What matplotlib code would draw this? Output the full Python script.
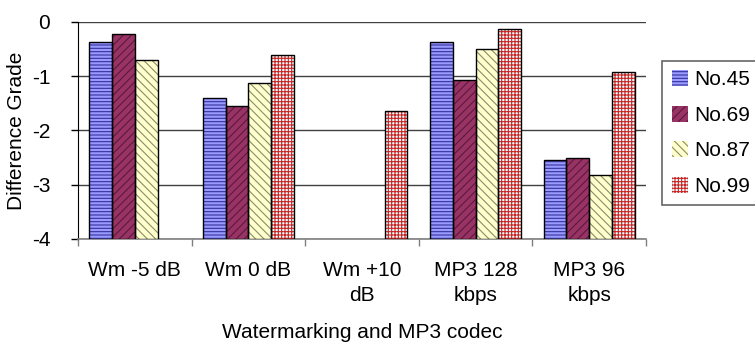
import matplotlib
matplotlib.use("Agg")
import matplotlib.pyplot as plt
import numpy as np
from matplotlib.patches import Patch

plt.rcParams['font.family'] = ['Liberation Sans', 'DejaVu Sans']
plt.rcParams['hatch.linewidth'] = 0.8

categories = ["Wm -5 dB", "Wm 0 dB", "Wm +10\ndB", "MP3 128\nkbps", "MP3 96\nkbps"]
series_names = ["No.45", "No.69", "No.87", "No.99"]
no45 = [-0.37, -1.41, np.nan, -0.36, -2.55]
no69 = [-0.23, -1.54, np.nan, -1.07, -2.51]
no87 = [-0.70, -1.13, np.nan, -0.49, -2.82]
no99 = [np.nan, -0.60, -1.64, -0.12, -0.92]
yticks = [0, -1, -2, -3, -4]
baseline = -4

series = [no45, no69, no87, no99]
fills = ["#9999FF", "#993366", "#FFFFCC", "#E8FFFF"]
hcols = ["#333399", "#5a1a3a", "#8a8a70", "#CC2222"]
hatches = ["-----", "////", "\\\\\\\\", "+++++"]

fig = plt.figure(figsize=(7.55, 3.42), dpi=100)
ax = fig.add_axes([0.1033, 0.3012, 0.7523, 0.6345])

x = np.arange(len(categories))
w = 0.2
for i, vals in enumerate(series):
    pos = x + (i - 1.5) * w
    v = np.array(vals, dtype=float)
    ax.bar(pos, v - baseline, w, bottom=baseline, color=fills[i], edgecolor=hcols[i],
           hatch=hatches[i], linewidth=0, zorder=3)
    ax.bar(pos, v - baseline, w, bottom=baseline, fill=False, edgecolor="black",
           linewidth=1.0, zorder=4)

ax.set_xlim(-0.5, len(categories) - 0.5)
ax.set_ylim(-4, 0)
ax.set_yticks(yticks)
ax.set_yticklabels([str(t) for t in yticks], fontsize=15)
ax.yaxis.grid(True, color="#404040", linewidth=1.0, zorder=0)
ax.set_axisbelow(True)

ax.set_xticks(x)
ax.set_xticklabels(categories, fontsize=15, linespacing=1.4)
ax.tick_params(axis='x', length=0, pad=16)
ax.set_xticks(np.arange(-0.5, len(categories), 1), minor=True)
ax.tick_params(axis='x', which='minor', length=5, color="#808080", width=1)
ax.tick_params(axis='y', length=5, width=1, color="black", pad=15)

for s in ["top", "right"]:
    ax.spines[s].set_visible(False)
ax.spines["left"].set_color("black")
ax.spines["bottom"].set_color("#808080")
ax.spines["bottom"].set_linewidth(1.2)

ax.set_ylabel("Difference Grade", fontsize=15, labelpad=4)
ax.set_xlabel("Watermarking and MP3 codec", fontsize=15, labelpad=13)

handles = [Patch(facecolor=fills[i], edgecolor=hcols[i], hatch=hatches[i], linewidth=0) for i in range(4)]
leg = fig.legend(handles, series_names, loc="upper left", bbox_to_anchor=(0.877, 0.822),
                 fontsize=15, frameon=True, fancybox=False, edgecolor="#404040",
                 handlelength=0.8, handleheight=0.8, handletextpad=0.3, labelspacing=0.78,
                 borderpad=0.45, borderaxespad=0)
leg.get_frame().set_linewidth(1.2)

fig.savefig("out.png", dpi=100)
